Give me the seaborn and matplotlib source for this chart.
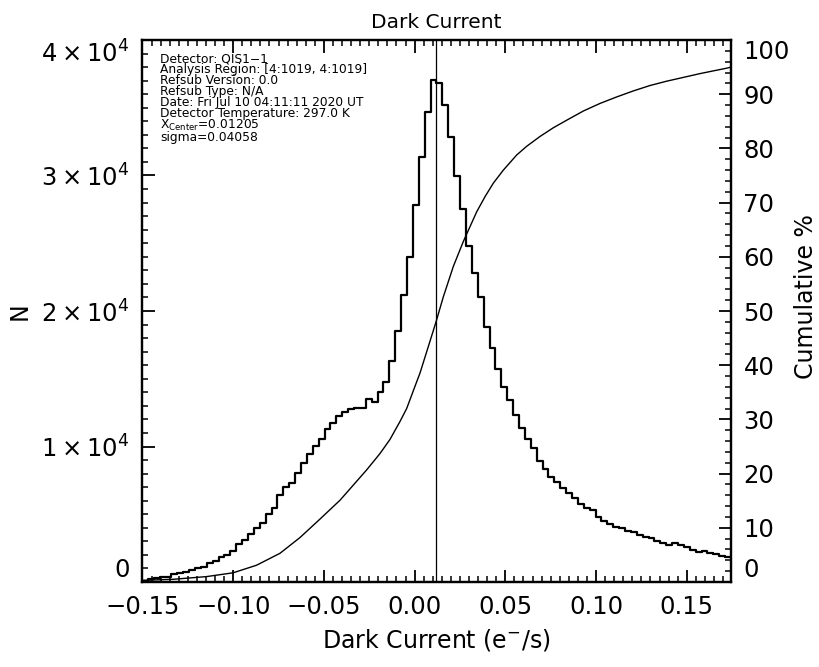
import numpy as np
import pandas as pd
import matplotlib
matplotlib.use("Agg")
import matplotlib.pyplot as plt
from matplotlib.ticker import MultipleLocator, FixedLocator
import seaborn as sns

# ---------------- data ----------------
x_center = 0.01205
sigma = 0.04058
x_min = x_center - 4 * sigma
x_max = x_center + 4 * sigma
n_bins = 100

counts = [
    74, 221, 300, 394, 394, 566, 640, 713, 886, 1058,
    1131, 1427, 1550, 1870, 1993, 2312, 2804, 3100, 3518, 3960,
    4330, 4994, 5485, 6400, 7000, 7331, 8020, 8800, 9450, 10050,
    10540, 11315, 11758, 12274, 12520, 12742, 12865, 12815, 13480, 13306,
    14044, 14782, 16332, 18546, 21181, 24008, 27823, 31340, 34710, 37048,
    36802, 35203, 32817, 29963, 27505, 24820, 22780, 21010, 18842, 17245,
    15697, 14413, 13432, 12325, 11343, 10531, 9867, 8952, 8317, 7771,
    7402, 6915, 6546, 6177, 5756, 5436, 5314, 4772, 4526, 4280,
    4083, 3960, 3788, 3665, 3469, 3346, 3223, 3050, 2853, 2731,
    2853, 2731, 2608, 2362, 2239, 2313, 2115, 2066, 1919, 1820,
]

cum_x = [-0.1503, -0.1330, -0.1146, -0.1000, -0.0871, -0.0742, -0.0632, -0.0522,
         -0.0411, -0.0264, -0.0191, -0.0136, -0.0081, -0.0044, -0.0006, 0.0030,
         0.0075, 0.0118, 0.0158, 0.0213, 0.0268, 0.0342, 0.0388, 0.0434,
         0.0489, 0.0563, 0.0618, 0.0691, 0.0764, 0.0838, 0.0930, 0.1022,
         0.1114, 0.1205, 0.1297, 0.1389, 0.1481, 0.1573, 0.1646, 0.1720, 0.1744]
cum_pct = [0.3, 0.5, 1.0, 1.7, 3.1, 5.3, 8.2, 11.6,
           15.1, 20.7, 23.7, 26.3, 29.6, 32.0, 35.4, 38.6,
           43.4, 48.0, 52.6, 58.2, 62.8, 68.3, 71.1, 73.6,
           76.0, 78.8, 80.4, 82.2, 83.8, 85.2, 86.9, 88.3,
           89.5, 90.6, 91.6, 92.4, 93.1, 93.8, 94.3, 94.8, 95.0]

info_lines = [
    "Detector: QIS1\u22121",
    "Analysis Region: [4:1019, 4:1019]",
    "Refsub Version: 0.0",
    "Refsub Type: N/A",
    "Date: Fri Jul 10 04:11:11 2020 UT",
    "Detector Temperature: 297.0 K",
    r"X$_{\rm Center}$=0.01205",
    "sigma=0.04058",
]

left_ticks = [0, 10000, 20000, 30000, 40000]
left_labels = ["0", r"$1\times10^{4}$", r"$2\times10^{4}$", r"$3\times10^{4}$", r"$4\times10^{4}$"]
x_ticks = [-0.15, -0.10, -0.05, 0.00, 0.05, 0.10, 0.15]
x_labels = ["\u22120.15", "\u22120.10", "\u22120.05", "0.00", "0.05", "0.10", "0.15"]
right_ticks = [0, 10, 20, 30, 40, 50, 60, 70, 80, 90, 100]

# ---------------- figure ----------------
sns.set_theme(style="white")
plt.rcParams["font.family"] = ["DejaVu Sans"]
plt.rcParams["mathtext.fontset"] = "dejavusans"
plt.rcParams["text.color"] = "black"
plt.rcParams["axes.labelcolor"] = "black"
plt.rcParams["xtick.color"] = "black"
plt.rcParams["ytick.color"] = "black"

W, H = 820, 667
fig = plt.figure(figsize=(W / 100, H / 100), dpi=100)
ax = fig.add_axes([142 / W, 1 - 582 / H, (731 - 142) / W, (582 - 40) / H])

edges = np.linspace(x_min, x_max, n_bins + 1)
centers = 0.5 * (edges[:-1] + edges[1:])
hist_df = pd.DataFrame({"x": centers, "n": counts})
sns.histplot(data=hist_df, x="x", weights="n", bins=n_bins, binrange=(x_min, x_max),
             element="step", fill=False, color="black", linewidth=1.6, ax=ax)

ax.axvline(x_center, color="black", linewidth=0.9)

ax.set_xlim(x_min, x_max)
ax.set_ylim(0, 40000)
ax.xaxis.set_major_locator(FixedLocator(x_ticks))
ax.set_xticklabels(x_labels)
ax.xaxis.set_minor_locator(MultipleLocator(0.005))
ax.yaxis.set_major_locator(FixedLocator(left_ticks))
ax.set_yticklabels(left_labels)
ax.yaxis.set_minor_locator(MultipleLocator(1000))

ax.tick_params(which="both", direction="in", top=True, bottom=True, left=True,
               right=False, color="black", labelsize=17.5, labelcolor="black")
ax.tick_params(which="major", length=9, width=1.3, pad=9)
ax.tick_params(which="minor", length=4.5, width=1.1)
for s in ax.spines.values():
    s.set_linewidth(1.6)
    s.set_color("black")

ylabs = ax.get_yticklabels()
ylabs[0].set_verticalalignment("bottom")
ylabs[-1].set_verticalalignment("top")

ax.set_xlabel("Dark Current (e$^{-}$/s)", fontsize=17, color="black", labelpad=6)
ax.set_ylabel("")
fig.text(20 / W, 1 - 311 / H, "N", rotation=90, fontsize=17, ha="center",
         va="center", color="black")
ax.set_title("Dark Current", fontsize=14.5, color="black", pad=9)

ax2 = ax.twinx()
cum_df = pd.DataFrame({"x": cum_x, "pct": cum_pct})
sns.lineplot(data=cum_df, x="x", y="pct", color="black", linewidth=1.0, ax=ax2)
ax2.set_xlim(x_min, x_max)
ax2.set_ylim(0, 100)
ax2.yaxis.set_major_locator(FixedLocator(right_ticks))
ax2.yaxis.set_minor_locator(MultipleLocator(2))
ax2.tick_params(which="both", direction="in", right=True, left=False,
                labelsize=17.5, labelcolor="black", color="black")
ax2.tick_params(which="major", length=9, width=1.3, pad=9)
ax2.tick_params(which="minor", length=4.5, width=1.1)
ax2.set_xlabel("")
ax2.set_ylabel("")
for s in ax2.spines.values():
    s.set_linewidth(1.6)
    s.set_color("black")
rlabs = ax2.get_yticklabels()
rlabs[0].set_verticalalignment("bottom")
rlabs[-1].set_verticalalignment("top")
fig.text(806 / W, 1 - 297 / H, "Cumulative %", rotation=90, fontsize=17,
         ha="center", va="center", color="black")

fig.text(160 / W, 1 - 52 / H, "\n".join(info_lines), fontsize=8.8,
         ha="left", va="top", color="black", linespacing=0.8)

fig.savefig("out.png", dpi=100, facecolor="white")
